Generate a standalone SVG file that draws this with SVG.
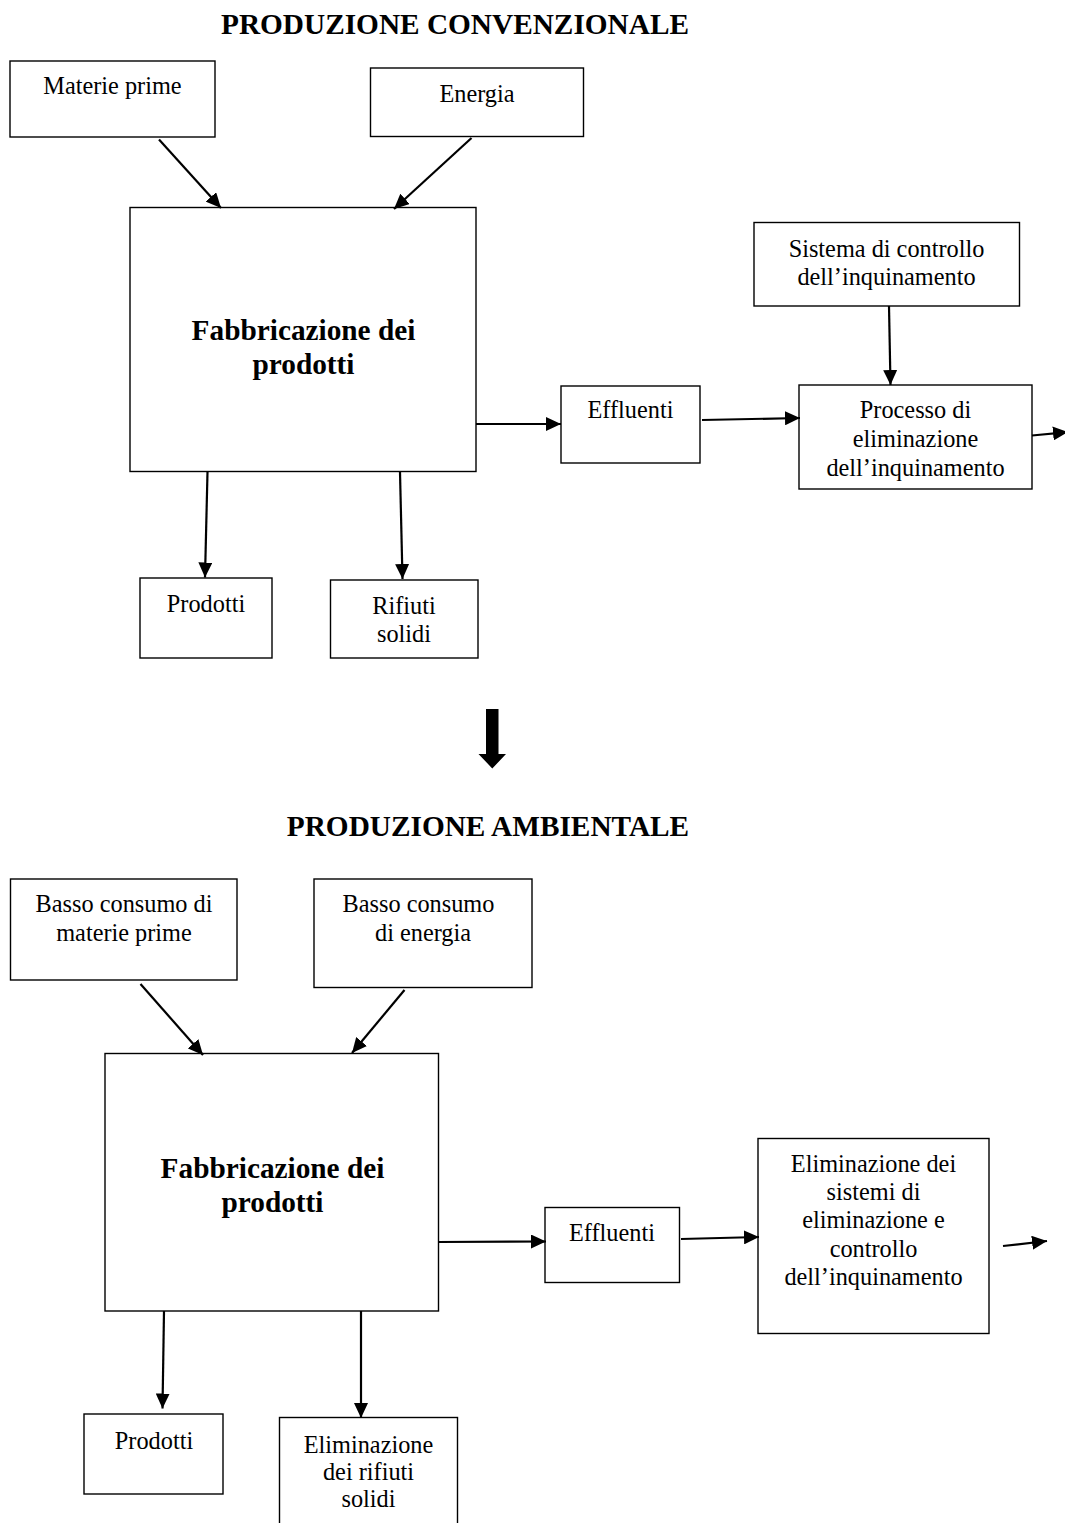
<svg xmlns="http://www.w3.org/2000/svg" width="1065" height="1523" viewBox="0 0 1065 1523">
<style>
.box{fill:#fff;stroke:#000;stroke-width:1.4}
.t{font-family:"Liberation Serif","Times New Roman",serif;font-size:24.3px;fill:#000;text-anchor:middle}
.b{font-family:"Liberation Serif","Times New Roman",serif;font-size:29.3px;font-weight:bold;fill:#000;text-anchor:middle}
.c{stroke:#000;stroke-width:2.2;fill:none;marker-end:url(#ah)}
</style>
<defs>
<marker id="ah" markerUnits="userSpaceOnUse" markerWidth="16" markerHeight="14" refX="15" refY="7" orient="auto">
<path d="M0,0 L15,7 L0,14 z" fill="#000"/>
</marker>
</defs>
<rect width="1065" height="1523" fill="#fff"/>

<g id="title1"><text class="b" x="455" y="34">PRODUZIONE CONVENZIONALE</text></g>

<g id="materie"><rect class="box" x="10" y="61" width="205" height="76"/><text class="t" x="112.5" y="94">Materie prime</text></g>
<g id="energia"><rect class="box" x="370.5" y="68" width="213" height="68.5"/><text class="t" x="477" y="102">Energia</text></g>
<g id="fabb1"><rect class="box" x="130" y="207.5" width="346" height="264"/><text class="b" x="303.5" y="340">Fabbricazione dei</text><text class="b" x="303.5" y="374">prodotti</text></g>
<g id="sistema"><rect class="box" x="754" y="222.5" width="265.5" height="83.5"/><text class="t" x="886.5" y="257">Sistema di controllo</text><text class="t" x="886.5" y="285">dell’inquinamento</text></g>
<g id="effluenti1"><rect class="box" x="561" y="386" width="139" height="77"/><text class="t" x="630.5" y="418">Effluenti</text></g>
<g id="processo"><rect class="box" x="799" y="385" width="233" height="104"/><text class="t" x="915.5" y="418">Processo di</text><text class="t" x="915.5" y="447">eliminazione</text><text class="t" x="915.5" y="476">dell’inquinamento</text></g>
<g id="prodotti1"><rect class="box" x="140" y="578" width="132" height="80"/><text class="t" x="206" y="612">Prodotti</text></g>
<g id="rifiuti"><rect class="box" x="330.5" y="580" width="147.5" height="78"/><text class="t" x="404" y="614">Rifiuti</text><text class="t" x="404" y="642">solidi</text></g>

<g id="bigarrow"><polygon points="486,709 498.5,709 498.5,754 506,754 492.3,768.5 478.5,754 486,754" fill="#000"/></g>

<g id="title2"><text class="b" x="488" y="836">PRODUZIONE AMBIENTALE</text></g>

<g id="basso1"><rect class="box" x="10.5" y="879" width="226.5" height="101"/><text class="t" x="124" y="912">Basso consumo di</text><text class="t" x="124" y="941">materie prime</text></g>
<g id="basso2"><rect class="box" x="314" y="879" width="218" height="108.5"/><text class="t" x="418.5" y="912">Basso consumo</text><text class="t" x="423" y="941">di energia</text></g>
<g id="fabb2"><rect class="box" x="105" y="1053.5" width="333.5" height="257.5"/><text class="b" x="272.5" y="1178">Fabbricazione dei</text><text class="b" x="272.5" y="1212">prodotti</text></g>
<g id="effluenti2"><rect class="box" x="545" y="1207.5" width="134.5" height="75"/><text class="t" x="612" y="1241">Effluenti</text></g>
<g id="eliminazione"><rect class="box" x="758" y="1138.5" width="231" height="195"/><text class="t" x="873.5" y="1172">Eliminazione dei</text><text class="t" x="873.5" y="1200">sistemi di</text><text class="t" x="873.5" y="1228">eliminazione e</text><text class="t" x="873.5" y="1257">controllo</text><text class="t" x="873.5" y="1285">dell’inquinamento</text></g>
<g id="prodotti2"><rect class="box" x="84" y="1414" width="139" height="80"/><text class="t" x="154" y="1449">Prodotti</text></g>
<g id="rifiuti2"><rect class="box" x="279.5" y="1417.5" width="178" height="115"/><text class="t" x="368.5" y="1453">Eliminazione</text><text class="t" x="368.5" y="1480">dei rifiuti</text><text class="t" x="368.5" y="1507">solidi</text></g>

<g id="connectors">
<line class="c" x1="159" y1="139.5" x2="221" y2="208"/>
<line class="c" x1="471.5" y1="138" x2="394" y2="209"/>
<line class="c" x1="889" y1="306" x2="890.5" y2="385"/>
<line class="c" x1="476" y1="424" x2="561" y2="424"/>
<line class="c" x1="702" y1="420" x2="800" y2="418"/>
<line class="c" x1="1032" y1="435.5" x2="1068" y2="432"/>
<line class="c" x1="207.5" y1="472" x2="205" y2="577.5"/>
<line class="c" x1="400" y1="472" x2="402.5" y2="579"/>
<line class="c" x1="140.5" y1="984" x2="203" y2="1055"/>
<line class="c" x1="404.5" y1="990" x2="352" y2="1053"/>
<line class="c" x1="438" y1="1242" x2="546" y2="1241.5"/>
<line class="c" x1="681" y1="1239" x2="759" y2="1237"/>
<line class="c" x1="1003" y1="1246" x2="1047" y2="1241"/>
<line class="c" x1="164" y1="1311" x2="162.5" y2="1408.5"/>
<line class="c" x1="361" y1="1311" x2="361" y2="1418"/>
</g>
</svg>
